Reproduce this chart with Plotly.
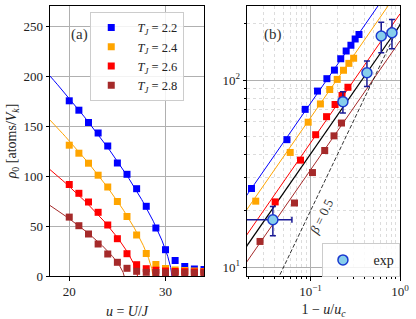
import numpy as np
import plotly.graph_objects as go

# ---------------- data ----------------
u_vals = [20, 21, 22, 23, 24, 25, 26, 27, 28, 29, 30, 31, 32, 33, 34]
T_labels = ["2.2", "2.4", "2.6", "2.8"]
series_colors = ["#0000ff", "#ffa500", "#ff0000", "#a52a2a"]
rho_T22 = [175.2, 165.8, 153.5, 143.0, 130.0, 113.0, 101.7, 87.3, 69.7, 48.0, 26.3, 15.5, 9.5, 7.0, 6.5]
rho_T24 = [130.8, 122.8, 112.8, 100.8, 89.0, 74.5, 59.5, 41.0, 22.5, 11.5, 7.5, 6.0, 5.5, 5.0, 4.5]
rho_T26 = [91.5, 82.7, 74.0, 63.7, 51.0, 37.3, 22.3, 11.3, 7.3, 5.8, 5.0, 4.5, 4.3, 4.0, 4.0]
rho_T28 = [58.9, 50.3, 42.0, 32.0, 22.0, 13.7, 7.7, 4.7, 3.7, 3.5, 3.3, 3.2, 3.0, 3.0, 3.0]
rho_all = [rho_T22, rho_T24, rho_T26, rho_T28]

# critical u and power-law fit parameters
u_c = [30.67, 28.70, 27.09, 25.70]
fit_A = [368.0, 308.0, 226.0, 162.0]
fit_beta = 0.69
black_A = 197.0
black_beta = 0.69
guide_A = 200.0   # dashed guide, slope 2*beta = 1
guide_slope = 1.0

# experimental points
exp_x = [0.0379, 0.230, 0.427, 0.617, 0.813]
exp_y = [17.9, 76.6, 109.4, 172.0, 179.0]
exp_yerr = [3.2, 10.0, 17.0, 32.0, 32.0]
exp_xerr = [0.024, 0.0, 0.0, 0.0, 0.0]

FONT = "Liberation Serif"
NB = "\u00a0"
fig = go.Figure()

# ---------------- panel (a) ----------------
for i in range(4):
    s = np.concatenate([[0.0], np.geomspace(1e-6, 1 - 18.0 / u_c[i], 400)])
    uu = u_c[i] * (1 - s)
    fig.add_trace(go.Scatter(x=uu, y=fit_A[i] * s ** fit_beta, mode="lines",
                             line=dict(color=series_colors[i], width=1),
                             showlegend=False, xaxis="x", yaxis="y", hoverinfo="skip"))
for i in range(4):
    fig.add_trace(go.Scatter(x=u_vals, y=rho_all[i], mode="markers",
                             marker=dict(symbol="square", size=7, color=series_colors[i]),
                             name=NB * 2 + "<i>T<sub>J</sub></i> = " + T_labels[i],
                             legend="legend", xaxis="x", yaxis="y"))

# ---------------- panel (b) ----------------
xl = np.array([0.012, 1.0])
for i in range(4):
    fig.add_trace(go.Scatter(x=xl, y=fit_A[i] * xl ** fit_beta, mode="lines",
                             line=dict(color=series_colors[i], width=1),
                             showlegend=False, xaxis="x2", yaxis="y2", hoverinfo="skip"))
fig.add_trace(go.Scatter(x=xl, y=black_A * xl ** black_beta, mode="lines",
                         line=dict(color="black", width=1.2),
                         showlegend=False, xaxis="x2", yaxis="y2"))
fig.add_trace(go.Scatter(x=xl, y=guide_A * xl ** guide_slope, mode="lines",
                         line=dict(color="black", width=0.8, dash="4px,2px"),
                         showlegend=False, xaxis="x2", yaxis="y2"))
for i in range(4):
    ux = [u for u in u_vals if u < u_c[i]]
    ry = [r for u, r in zip(u_vals, rho_all[i]) if u < u_c[i]]
    xs = [1 - u / u_c[i] for u in ux]
    fig.add_trace(go.Scatter(x=xs, y=ry, mode="markers",
                             marker=dict(symbol="square", size=7, color=series_colors[i]),
                             showlegend=False, xaxis="x2", yaxis="y2"))
fig.add_trace(go.Scatter(x=exp_x, y=exp_y, mode="markers", name=NB * 3 + "exp",
                         marker=dict(symbol="circle", size=10, color="#87ceeb",
                                     line=dict(color="#1a3ad0", width=1.5)),
                         error_y=dict(type="data", array=exp_yerr, color="#1a1a96",
                                      thickness=1.5, width=3),
                         error_x=dict(type="data", array=exp_xerr, color="#1a1a96",
                                      thickness=1.5, width=3),
                         legend="legend2", xaxis="x2", yaxis="y2"))

minor_x = [0.02, 0.03, 0.04, 0.05, 0.06, 0.07, 0.08, 0.09,
           0.2, 0.3, 0.4, 0.5, 0.6, 0.7, 0.8, 0.9]
minor_y = [20, 30, 40, 50, 60, 70, 80, 90, 200]

axis_common = dict(showline=True, linecolor="black", linewidth=1, mirror=True,
                   ticks="outside", ticklen=3.5, tickcolor="black", zeroline=False,
                   gridcolor="#b0b0b0", gridwidth=0.8, automargin=False,
                   tickfont=dict(family=FONT, size=13, color="#222"))

fig.update_layout(
    width=416, height=319,
    margin=dict(l=50, r=16, t=6, b=43),
    paper_bgcolor="white", plot_bgcolor="white",
    font=dict(family=FONT, size=13, color="#222"),
    xaxis=dict(domain=[0, 0.44], range=[18, 34], tickvals=[20, 30], anchor="y",
               title=dict(text="<i>u</i> = <i>U</i>/<i>J</i>", standoff=10,
                          font=dict(family=FONT, size=14)), **axis_common),
    yaxis=dict(domain=[0, 1], range=[0, 270], tickvals=[0, 50, 100, 150, 200, 250],
               anchor="x",
               title=dict(text="<i>ρ</i><sub>0</sub> [atoms/<i>V<sub>k</sub></i>]",
                          standoff=3, font=dict(family=FONT, size=14)), **axis_common),
    xaxis2=dict(domain=[0.563, 1], type="log", range=[-1.71, 0], anchor="y2",
                tickvals=[0.1, 1], ticktext=["10<sup>−1</sup>", "10<sup>0</sup>"],
                minor=dict(tickvals=minor_x, ticks="outside", ticklen=2,
                           tickcolor="black", showgrid=True, gridcolor="#dcdcdc",
                           griddash="dot", gridwidth=0.6),
                title=dict(text="1 − <i>u</i>/<i>u<sub>c</sub></i>", standoff=10,
                           font=dict(family=FONT, size=14)), **axis_common),
    yaxis2=dict(domain=[0, 1], type="log", range=[0.952, 2.396], anchor="x2",
                tickvals=[10, 100], ticktext=["10<sup>1</sup>", "10<sup>2</sup>"],
                minor=dict(tickvals=minor_y, ticks="outside", ticklen=2,
                           tickcolor="black", showgrid=True, gridcolor="#dcdcdc",
                           griddash="dot", gridwidth=0.6),
                **axis_common),
    legend=dict(x=0.115, y=0.978, xanchor="left", yanchor="top",
                bgcolor="rgba(255,255,255,0.85)", bordercolor="#cccccc", borderwidth=1,
                font=dict(family=FONT, size=12.5, color="#222"), itemwidth=30),
    legend2=dict(x=0.777, y=0.121, xanchor="left", yanchor="top",
                 bgcolor="rgba(255,255,255,0.85)", bordercolor="#cccccc", borderwidth=1,
                 font=dict(family=FONT, size=14, color="#222"), itemwidth=30),
    annotations=[
        dict(text="(a)", x=0.123, y=0.933, xref="x domain", yref="y domain",
             showarrow=False, font=dict(family=FONT, size=15, color="#333")),
        dict(text="(b)", x=0.098, y=0.933, xref="x2 domain", yref="y2 domain",
             showarrow=False, font=dict(family=FONT, size=15, color="#333")),
        dict(text="<i>β</i> = 0.5", x=-0.88, y=1.2716, xref="x2", yref="y2",
             showarrow=False, textangle=-64, font=dict(family=FONT, size=13, color="#333")),
    ],
)

fig.write_html("out.html", config={"displayModeBar": False},
               post_script="document.body.style.margin='0';")
